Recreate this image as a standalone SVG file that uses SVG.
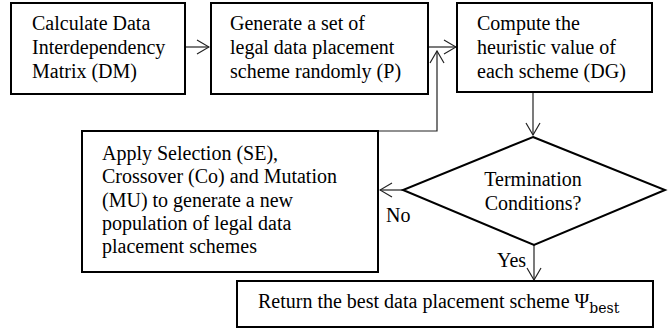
<svg xmlns="http://www.w3.org/2000/svg" width="671" height="331" viewBox="0 0 671 331">
<defs>
<style>
.box{fill:#fff;stroke:#000;stroke-width:2}
.t{font-size:20px;fill:#000}
.c{fill:none;stroke:#222;stroke-width:1.2}
</style>
<marker id="ah" viewBox="0 0 14 16" refX="13" refY="8" markerWidth="14" markerHeight="16" markerUnits="userSpaceOnUse" orient="auto">
<path d="M1,1 L13,8 L1,15" fill="none" stroke="#222" stroke-width="1.2"/>
</marker>
</defs>
<rect width="671" height="331" fill="#fff"/>
<g font-family="Liberation Serif, Tinos, Times New Roman, serif">
<g id="connectors">
<line class="c" x1="186" y1="47" x2="209" y2="47" marker-end="url(#ah)"/>
<line class="c" x1="428" y1="47" x2="456" y2="47" marker-end="url(#ah)"/>
<polyline class="c" points="378,131 437,131 437,51" marker-end="url(#ah)"/>
<line class="c" x1="533" y1="93" x2="533" y2="135" marker-end="url(#ah)"/>
<line class="c" x1="403" y1="190" x2="380" y2="190" marker-end="url(#ah)"/>
<line class="c" x1="534" y1="245" x2="534" y2="280" marker-end="url(#ah)"/>
<text class="t" x="386" y="222">No</text>
<text class="t" x="497" y="267">Yes</text>
</g>
<g id="n1">
<rect class="box" x="11" y="3" width="174" height="91"/>
<text class="t" x="32"><tspan x="32" y="30">Calculate Data</tspan><tspan x="32" y="54">Interdependency</tspan><tspan x="32" y="78">Matrix (DM)</tspan></text>
</g>
<g id="n2">
<rect class="box" x="211" y="3" width="217" height="91"/>
<text class="t"><tspan x="230" y="30">Generate a set of</tspan><tspan x="230" y="54">legal data placement</tspan><tspan x="230" y="78">scheme randomly (P)</tspan></text>
</g>
<g id="n3">
<rect class="box" x="457" y="3" width="195" height="89"/>
<text class="t"><tspan x="477" y="30">Compute the</tspan><tspan x="477" y="54">heuristic value of</tspan><tspan x="477" y="78">each scheme (DG)</tspan></text>
</g>
<g id="n4">
<polygon class="box" points="533,137 665,190 534,245 403,190" stroke-width="1.8"/>
<text class="t" text-anchor="middle"><tspan x="533" y="186">Termination</tspan><tspan x="533" y="210">Conditions?</tspan></text>
</g>
<g id="n5">
<rect class="box" x="82" y="131" width="296" height="141"/>
<text class="t"><tspan x="102" y="160">Apply Selection (SE),</tspan><tspan x="102" y="183">Crossover (Co) and Mutation</tspan><tspan x="102" y="207">(MU) to generate a new</tspan><tspan x="102" y="230">population of legal data</tspan><tspan x="102" y="253">placement schemes</tspan></text>
</g>
<g id="n6">
<rect class="box" x="237" y="281" width="416" height="46"/>
<text class="t" x="258" y="308">Return the best data placement scheme Ψ<tspan font-family="DejaVu Serif, Liberation Serif, serif" font-size="14" dy="5">best</tspan></text>
</g>
</g>
</svg>
